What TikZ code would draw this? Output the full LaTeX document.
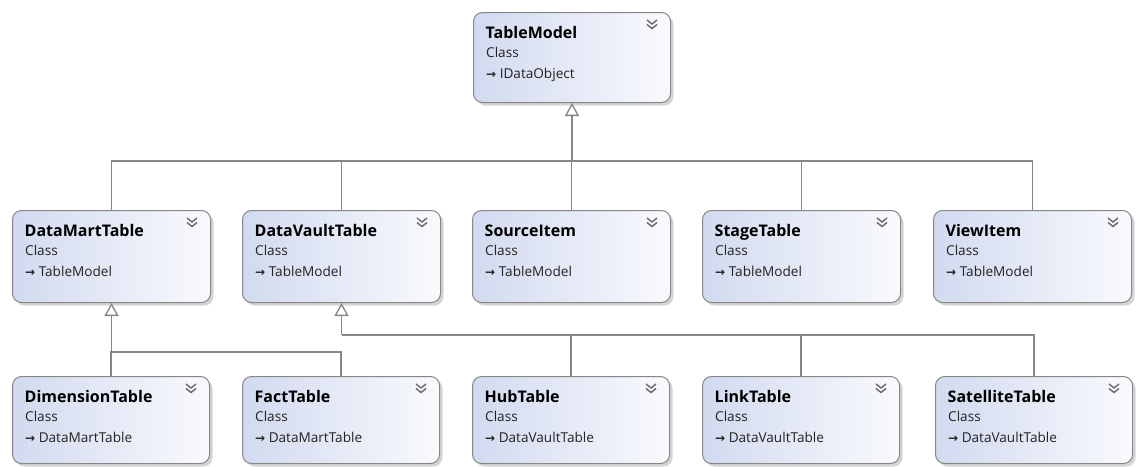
\documentclass[tikz,border=0pt]{standalone}
\usepackage{fontspec}
\setmainfont{Open Sans}
\newfontfamily\symfont{DejaVu Sans}
\usetikzlibrary{arrows.meta,shadows}

\definecolor{boxleft}{RGB}{210,218,240}
\definecolor{boxright}{RGB}{249,250,253}
\definecolor{boxborder}{RGB}{135,135,135}
\definecolor{linkgray}{RGB}{135,135,130}
\definecolor{chevgray}{RGB}{105,105,105}
\definecolor{textgray}{RGB}{35,35,35}

\tikzset{
  classbg/.style={draw=boxborder, line width=1pt, rounded corners=9pt,
    left color=boxleft, right color=boxright, inner sep=0pt,
    drop shadow={shadow xshift=3pt, shadow yshift=-3pt, fill=black!17, opacity=1}},
  titletext/.style={inner sep=0pt, font=\fontsize{16}{19}\selectfont\bfseries, text=black},
  subtext/.style={inner sep=0pt, font=\fontsize{13.6}{16}\selectfont, text=textgray},
  chev/.style={draw=chevgray, line width=1.4pt},
  link/.style={draw=linkgray, line width=1.3pt},
  inherit/.style={link, -{Triangle[open, fill=white, width=14pt, length=13pt]}},
}

% \classbox{name}{left}{top}{width}{height}{title}{base class}
\newcommand\classbox[7]{%
  \node[classbg, anchor=north west, minimum width=#4pt, minimum height=#5pt] (#1) at (#2,#3) {};
  \node[titletext, anchor=base west] (#1-title) at ([xshift=12.5pt,yshift=-26pt]#1.north west) {#6};
  \node[subtext, anchor=base west] (#1-kind) at ([xshift=13pt,yshift=-45pt]#1.north west) {Class};
  \node[subtext, anchor=base west] (#1-base) at ([xshift=13pt,yshift=-66pt]#1.north west)
    {{\symfont\bfseries\fontsize{12}{14}\selectfont →}\hspace{3.5pt}#7};
  \draw[chev] ([xshift=-24pt,yshift=-8pt]#1.north east) -- ++(5,4) -- ++(5,-4);
  \draw[chev] ([xshift=-24pt,yshift=-12.5pt]#1.north east) -- ++(5,4) -- ++(5,-4);
}

\begin{document}
\begin{tikzpicture}[x=1pt, y=-1pt]
  \useasboundingbox (0,0) rectangle (1137,466);

  % root
  \classbox{tm}{473}{12}{197}{90}{TableModel}{IDataObject}

  % second row
  \classbox{dmt}{12}{210}{198}{92}{DataMartTable}{TableModel}
  \classbox{dvt}{242}{210}{198}{92}{DataVaultTable}{TableModel}
  \classbox{src}{472}{210}{198}{92}{SourceItem}{TableModel}
  \classbox{stg}{702}{210}{198}{92}{StageTable}{TableModel}
  \classbox{vw}{933}{210}{198}{92}{ViewItem}{TableModel}

  % third row
  \classbox{dim}{12}{376}{197}{87}{DimensionTable}{DataMartTable}
  \classbox{fact}{242}{376}{197}{87}{FactTable}{DataMartTable}
  \classbox{hub}{472}{376}{197}{87}{HubTable}{DataVaultTable}
  \classbox{lnk}{702}{376}{197}{87}{LinkTable}{DataVaultTable}
  \classbox{sat}{935}{376}{197}{87}{SatelliteTable}{DataVaultTable}

  % junction points of the inheritance trees
  \coordinate (busTM) at (tm.south |- 0,161);
  \coordinate (busDM) at (dmt.south |- 0,352);
  \coordinate (busDV) at (dvt.south |- 0,335);

  % TableModel subclasses
  \draw[inherit] (busTM) -- (tm.south);
  \foreach \c in {dmt,dvt,src,stg,vw} \draw[link] (\c.north) |- (busTM);

  % DataMartTable subclasses
  \draw[inherit] (busDM) -- (dmt.south);
  \foreach \c in {dim,fact} \draw[link] (\c.north) |- (busDM);

  % DataVaultTable subclasses
  \draw[inherit] (busDV) -- (dvt.south);
  \foreach \c in {hub,lnk,sat} \draw[link] (\c.north) |- (busDV);
\end{tikzpicture}
\end{document}
